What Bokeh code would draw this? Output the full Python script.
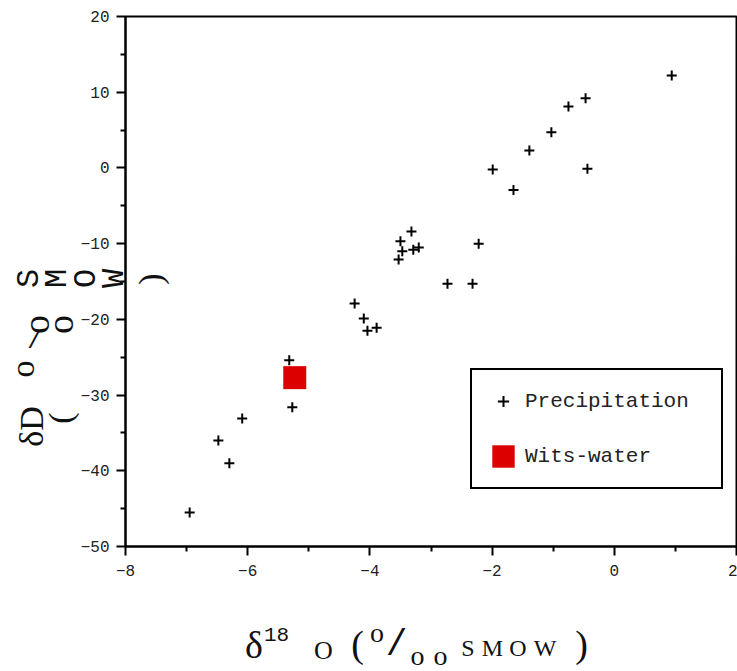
import math
from bokeh.plotting import figure
from bokeh.models import Range1d, FixedTicker, Label, Legend, LegendItem, BoxAnnotation
from bokeh.embed import file_html
from bokeh.resources import INLINE

# ---------------- data ----------------
precip_d18o = [0.94, -0.47, -0.75, -1.03, -1.39, -0.44, -1.99, -1.65,
               -3.32, -3.50, -3.47, -3.53, -3.29, -3.20, -2.22, -2.73, -2.32,
               -4.25, -4.10, -4.04, -3.89, -5.32, -5.27, -6.09, -6.48, -6.30, -6.95]
precip_dD = [12.2, 9.2, 8.1, 4.7, 2.3, -0.1, -0.2, -2.9,
             -8.4, -9.7, -11.0, -12.1, -10.8, -10.5, -10.0, -15.3, -15.3,
             -17.9, -19.9, -21.5, -21.1, -25.4, -31.6, -33.1, -36.0, -39.0, -45.5]
wits_d18o = [-5.23]
wits_dD = [-27.7]

x_major = [-8, -6, -4, -2, 0, 2]
x_minor = [-7, -5, -3, -1, 1]
y_major = [-50, -40, -30, -20, -10, 0, 10, 20]
y_minor = [-45, -35, -25, -15, -5, 5, 15]

series_labels = ["Precipitation", "Wits-water"]

# ---------------- layout of the plot box inside the canvas ----------------
W, H = 737, 671
BOX_L, BOX_R, BOX_T, BOX_B = 125, 736, 16, 546   # pixel edges of the axes box
XMIN, XMAX, YMIN, YMAX = x_major[0], x_major[-1], y_major[0], y_major[-1]
ux = (XMAX - XMIN) / (BOX_R - BOX_L)
uy = (YMAX - YMIN) / (BOX_B - BOX_T)
x0 = XMIN - BOX_L * ux
y1 = YMAX + BOX_T * uy

p = figure(width=W, height=H, output_backend="svg", toolbar_location=None,
           x_range=Range1d(x0, x0 + W * ux), y_range=Range1d(y1 - H * uy, y1),
           min_border=0)
p.grid.visible = False
p.background_fill_color = "white"
p.border_fill_color = "white"
p.outline_line_color = None

for ax in (p.xaxis[0], p.yaxis[0]):
    ax.axis_line_width = 2
    ax.axis_line_color = "black"
    ax.major_tick_line_width = 2
    ax.minor_tick_line_width = 2
    ax.major_tick_line_color = "black"
    ax.minor_tick_line_color = "black"
    ax.major_tick_in = 0
    ax.major_tick_out = 9
    ax.minor_tick_in = 0
    ax.minor_tick_out = 5
    ax.major_label_text_font = "Liberation Mono"
    ax.major_label_text_font_size = "16px"
    ax.major_label_text_color = "#222222"

p.xaxis[0].ticker = FixedTicker(ticks=x_major, minor_ticks=x_minor)
p.yaxis[0].ticker = FixedTicker(ticks=y_major, minor_ticks=y_minor)
p.xaxis[0].fixed_location = YMIN
p.yaxis[0].fixed_location = XMIN
p.xaxis[0].bounds = (XMIN, XMAX)
p.yaxis[0].bounds = (YMIN, YMAX)
p.xaxis[0].major_label_standoff = 9
p.yaxis[0].major_label_standoff = 7

# box frame (top and right edges of the axes box)
p.add_layout(BoxAnnotation(left=XMIN, right=XMAX, bottom=YMIN, top=YMAX,
                           fill_alpha=0, line_color="black", line_width=2,
                           line_alpha=1))

r1 = p.scatter(precip_d18o, precip_dD, marker="cross", size=10, line_width=2,
               line_color="black")
r2 = p.rect(wits_d18o, wits_dD, width=23, height=23, width_units="screen",
            height_units="screen", fill_color="#dc0000", line_color=None)

legend = Legend(items=[LegendItem(label=series_labels[0], renderers=[r1]),
                       LegendItem(label=series_labels[1], renderers=[r2])],
                location=(470, H - 489), padding=17, spacing=27,
                glyph_height=28, glyph_width=28, label_standoff=8,
                label_width=179, label_height=28, margin=0,
                border_line_color="black", border_line_width=2,
                border_line_alpha=1,
                background_fill_color="white", background_fill_alpha=1,
                label_text_font="Liberation Mono", label_text_font_size="21px",
                label_text_color="#222222")
p.add_layout(legend)

# ---------------- axis titles (piecewise, like the original) ----------------
SERIF = "Liberation Serif"
MONO = "Liberation Mono"
R = math.pi / 2

# (text, anchor x, anchor y, font size px, font, angle) -- anchor = centre/middle
x_title = [
    ("δ", 253.5, 644, 38, SERIF, 0),
    ("18", 276, 634, 21, MONO, 0),
    ("O", 323, 650, 26, SERIF, 0),
    ("(", 357, 643.5, 38, SERIF, 0),
    ("o", 376.5, 632, 28, SERIF, 0),
    ("/", 396, 645, 36, MONO, 0),
    ("o", 417, 655, 28, SERIF, 0),
    ("o", 440, 655, 28, SERIF, 0),
    ("S", 467.5, 647, 24, SERIF, 0),
    ("M", 492, 647, 24, SERIF, 0),
    ("O", 517.5, 647, 24, SERIF, 0),
    ("W", 544.5, 647, 24, SERIF, 0),
    (")", 581, 643.5, 38, SERIF, 0),
]
y_title = [
    ("δD", 30.5, 426, 34, SERIF, R),
    ("(", 59.5, 417.5, 34, SERIF, R),
    ("o", 21.5, 368.5, 34, SERIF, R),
    ("/", 34, 341, 24, MONO, 0),
    ("o", 35.2, 324, 38, SERIF, R),
    ("o", 59.2, 324, 38, SERIF, R),
    ("S", 29.2, 278, 32, MONO, R),
    ("M", 57.2, 278, 32, MONO, R),
    ("O", 86.2, 278, 32, MONO, R),
    ("W", 114.2, 278, 32, MONO, R),
    (")", 149.5, 278.5, 34, SERIF, R),
]

for txt, px, py, fs, font, ang in x_title + y_title:
    p.add_layout(Label(x=px, y=H - py, x_units="screen", y_units="screen",
                       text=txt, angle=ang, text_align="center",
                       text_baseline="middle", text_font=font,
                       text_font_size=f"{fs}px", text_color="#111111"))

open("out.html", "w").write(file_html(p, INLINE))
